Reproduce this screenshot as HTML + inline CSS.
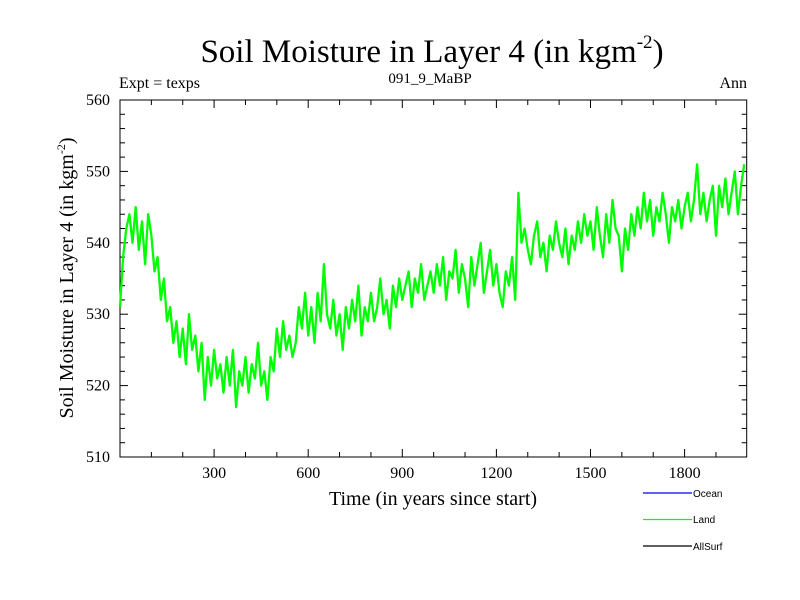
<!DOCTYPE html>
<html><head><meta charset="utf-8"><style>
body{margin:0;background:#fff;}
svg{display:block;font-family:"Liberation Serif",serif;}
</style></head><body>
<svg id="chart" width="800" height="600" viewBox="0 0 800 600" xmlns="http://www.w3.org/2000/svg">
<text x="432" y="62" font-size="33" text-anchor="middle">Soil Moisture in Layer 4 (in kgm<tspan font-size="19" dy="-14">-2</tspan><tspan dy="14">)</tspan></text>
<text x="430" y="83" font-size="15" text-anchor="middle">091_9_MaBP</text>
<text x="119" y="88" font-size="16">Expt = texps</text>
<text x="747" y="88" font-size="16" text-anchor="end">Ann</text>
<g id="axes"></g>
<g id="series"></g>
<text x="433" y="505" font-size="20" text-anchor="middle">Time (in years since start)</text>
<text transform="translate(73,278) rotate(-90)" font-size="20" text-anchor="middle">Soil Moisture in Layer 4 (in kgm<tspan font-size="12" dy="-8">-2</tspan><tspan dy="8">)</tspan></text>
<g font-family="Liberation Sans, sans-serif" font-size="10">
<line x1="643" y1="493" x2="692" y2="493" stroke="#0000ff" stroke-width="1.3"/>
<text x="693" y="497">Ocean</text>
<line x1="643" y1="519.5" x2="692" y2="519.5" stroke="#00ff00" stroke-width="1.3"/>
<text x="693" y="523">Land</text>
<line x1="643" y1="546" x2="692" y2="546" stroke="#000" stroke-width="1.3"/>
<text x="693" y="550">AllSurf</text>
</g>
</svg>
<script>
const xTicks=[300,600,900,1200,1500,1800];
const yTicks=[510,520,530,540,550,560];
const years=[];for(let i=0;i<200;i++)years.push(i*10);
const land=[
531,538,542,544,540,545,539,543,537,544,
541,536,538,532,535,529,531,526,529,524,
528,523,530,525,527,522,526,518,524,520,
525,521,523,519,524,520,525,517,522,520,
524,519,523,521,526,520,522,518,524,522,
528,524,529,525,527,524,526,531,528,533,
527,531,526,533,529,537,530,528,532,527,
530,525,531,528,532,529,534,527,531,529,
533,529,531,535,530,532,528,534,531,535,
532,534,536,531,535,533,537,532,534,536,
533,537,534,538,532,536,535,539,533,537,
535,531,538,534,537,540,533,536,539,534,
537,533,531,536,534,538,532,547,540,542,
539,537,541,543,538,540,536,541,539,543,
540,538,542,537,541,539,543,540,544,541,
543,539,545,541,538,544,540,546,542,541,
536,542,539,544,541,545,542,547,543,546,
541,545,543,547,544,540,545,543,546,542,
545,547,543,546,551,544,547,543,546,548,
541,548,545,549,544,547,550,544,548,551];
const L=120,R=746.7,T=100,B=457,X0=0,X1=1998,Y0=510,Y1=560;
const sx=v=>L+(v-X0)/(X1-X0)*(R-L);
const sy=v=>B-(v-Y0)/(Y1-Y0)*(B-T);
const NS="http://www.w3.org/2000/svg";
const ax=document.getElementById('axes');
function mk(t,a,p){const e=document.createElementNS(NS,t);for(const k in a)e.setAttribute(k,a[k]);p.appendChild(e);return e;}
const frame=mk('rect',{x:L,y:T,width:R-L,height:B-T,fill:'none',stroke:'#000','stroke-width':1},ax);


for(let v=100;v<X1;v+=100){
 const major=v%300===0,len=major?8:5;
 const t1=mk('line',{x1:sx(v),x2:sx(v),y1:B,y2:B-len,stroke:'#000'},ax);
 
 
 const t2=mk('line',{x1:sx(v),x2:sx(v),y1:T,y2:T+len,stroke:'#000'},ax);
 
 
}
xTicks.forEach(v=>{const t=mk('text',{x:sx(v),y:B+21,'font-size':16,'text-anchor':'middle'},ax);t.textContent=v;
 
 });
for(let v=Y0+2;v<Y1;v+=2){
 const major=v%10===0,len=major?8:5;
 const t1=mk('line',{x1:L,x2:L+len,y1:sy(v),y2:sy(v),stroke:'#000'},ax);
 
 
 const t2=mk('line',{x1:R,x2:R-len,y1:sy(v),y2:sy(v),stroke:'#000'},ax);
 
 
}
yTicks.forEach(v=>{const t=mk('text',{x:L-10,y:sy(v)+5,'font-size':16,'text-anchor':'end'},ax);t.textContent=v;
 
 });
const d=land.map((v,i)=>(i?'L':'M')+sx(years[i]).toFixed(1)+','+sy(v).toFixed(1)).join('');
const p=mk('path',{d:d,fill:'none',stroke:'#00ff00','stroke-width':2.3,'stroke-linejoin':'round'},document.getElementById('series'));


</script>
</body></html>
